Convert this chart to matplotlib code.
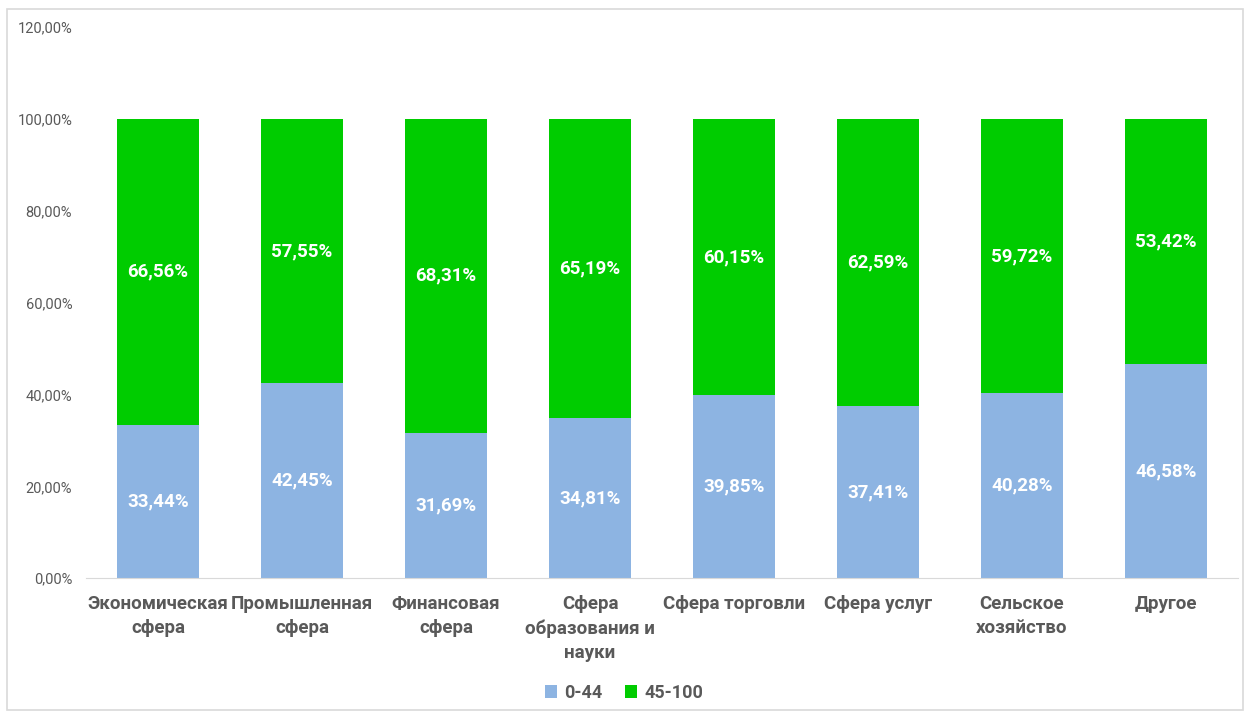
import matplotlib.pyplot as plt
import matplotlib.patches as mpatches
import numpy as np

plt.rcParams['font.family'] = ['Roboto', 'DejaVu Sans']

categories = ['Экономическая\nсфера', 'Промышленная\nсфера', 'Финансовая\nсфера',
              'Сфера\nобразования и\nнауки', 'Сфера торговли', 'Сфера услуг',
              'Сельское\nхозяйство', 'Другое']
low = [33.44, 42.45, 31.69, 34.81, 39.85, 37.41, 40.28, 46.58]
high = [66.56, 57.55, 68.31, 65.19, 60.15, 62.59, 59.72, 53.42]
series_names = ['0-44', '45-100']
yticks = [0, 20, 40, 60, 80, 100, 120]

blue = '#8DB4E2'
green = '#00CC00'
gray = '#595959'

fig = plt.figure(figsize=[12.48, 7.13], dpi=100)
ax = fig.add_axes([0.069, 0.189, 0.923, 0.773])

x = np.arange(len(categories))
w = 0.57
b1 = ax.bar(x, low, w, color=blue, label=series_names[0])
b2 = ax.bar(x, high, w, bottom=low, color=green, label=series_names[1])

def fmt(v):
    return ('%.2f%%' % v).replace('.', ',')

for i in range(len(x)):
    ax.text(x[i], low[i] / 2, fmt(low[i]), ha='center', va='center',
            color='white', fontsize=13.5, fontweight='bold')
    ax.text(x[i], low[i] + high[i] / 2, fmt(high[i]), ha='center', va='center',
            color='white', fontsize=13.5, fontweight='bold')

ax.set_xlim(-0.5, len(categories) - 0.5)
ax.set_ylim(0, 120)
ax.set_yticks(yticks)
ax.set_yticklabels([('%.2f%%' % t).replace('.', ',') for t in yticks],
                   color=gray, fontsize=10.5)
ax.set_xticks(x)
ax.set_xticklabels(categories, color=gray, fontsize=13.5, fontweight='bold',
                   linespacing=1.45, va='top')
ax.tick_params(axis='both', length=0)
ax.tick_params(axis='x', pad=12)
ax.tick_params(axis='y', pad=10)
for s in ['top', 'right', 'left']:
    ax.spines[s].set_visible(False)
ax.spines['bottom'].set_color('#D9D9D9')

leg = fig.legend(handles=[b1, b2], labels=series_names, loc='center',
                 bbox_to_anchor=(0.5, 0.028), ncol=2, frameon=False,
                 handlelength=0.7, handleheight=0.7, handletextpad=0.4,
                 columnspacing=1.2, prop={'size': 13, 'weight': 'bold'})
for t in leg.get_texts():
    t.set_color(gray)

fig.patches.append(mpatches.Rectangle((0.006, 0.004), 0.99, 0.983, transform=fig.transFigure,
                                      fill=False, edgecolor='#D9D9D9', linewidth=1.2))

plt.savefig('out.png', dpi=100)
